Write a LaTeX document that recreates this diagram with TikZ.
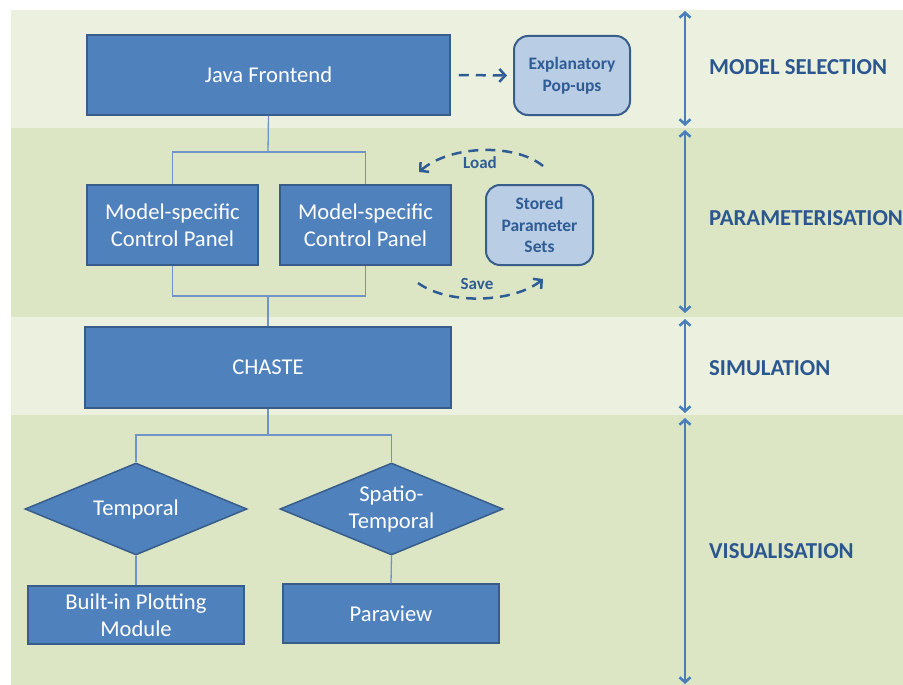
\documentclass[tikz,border=0pt]{standalone}
\usepackage{fontspec}
\setmainfont{Carlito}
\usetikzlibrary{shapes.geometric,arrows.meta}
\definecolor{boxfill}{HTML}{4F81BD}
\definecolor{boxline}{HTML}{385D8A}
\definecolor{lightband}{HTML}{EBF1DE}
\definecolor{darkband}{HTML}{DCE6C4}
\definecolor{conn}{HTML}{7094C8}
\definecolor{arrowblue}{HTML}{4A7EBB}
\definecolor{dashblue}{HTML}{2F5C95}
\definecolor{labelblue}{HTML}{2B5690}
\definecolor{softfill}{HTML}{B9CDE5}
\begin{document}
\begin{tikzpicture}[x=1pt,y=-1pt,
  bluebox/.style={rectangle, draw=boxline, fill=boxfill, line width=1.5pt, text=white,
    font=\fontsize{22.6}{27}\selectfont, align=center, inner sep=0pt},
  bluediamond/.style={diamond, draw=boxline, fill=boxfill, line width=1.5pt, text=white,
    font=\fontsize{22.6}{27}\selectfont, align=center, inner sep=0pt, shape aspect=2.4},
  softbox/.style={rectangle, rounded corners=14pt, draw=boxline, fill=softfill, line width=2pt,
    text=dashblue, font=\bfseries\fontsize{17.5}{21.5}\selectfont, align=center, inner sep=0pt},
  conn/.style={draw=conn, line width=1.3pt},
  dasharrow/.style={draw=dashblue, line width=2.5pt, dash pattern=on 10pt off 7pt,
    -{Straight Barb[length=6pt,width=13pt,line width=2.5pt]}},
  sidearrow/.style={draw=arrowblue, line width=2.6pt,
    {Straight Barb[length=5pt,width=11pt,line width=2.6pt]}-{Straight Barb[length=5pt,width=11pt,line width=2.6pt]}},
  phaselabel/.style={anchor=west, text=labelblue, font=\bfseries\fontsize{22.8}{26}\selectfont, inner sep=0pt},
  curvelabel/.style={text=dashblue, font=\bfseries\fontsize{17}{19}\selectfont, inner sep=0pt}]
\useasboundingbox (0,0) rectangle (903,685);
% bands
\fill[lightband] (11,10) rectangle (903,128);
\fill[darkband] (11,128) rectangle (903,317);
\fill[lightband] (11,317) rectangle (903,415);
\fill[darkband] (11,415) rectangle (903,685);

% nodes
\node[bluebox, minimum width=363pt, minimum height=80pt] (java) at (268.5,75) {Java Frontend};
\node[softbox, minimum width=116pt, minimum height=79pt] (pop) at (572,75.5) {Explanatory\\Pop-ups};
\node[bluebox, minimum width=171pt, minimum height=80pt] (p1) at (172.5,225) {Model-specific\\Control Panel};
\node[bluebox, minimum width=171pt, minimum height=80pt] (p2) at (365.5,225) {Model-specific\\Control Panel};
\node[softbox, minimum width=107pt, minimum height=80pt] (stored) at (539.5,225) {Stored\\Parameter\\Sets};
\node[bluebox, minimum width=366pt, minimum height=81pt] (chaste) at (268,367.5) {CHASTE};
\node[bluediamond, minimum width=222pt, minimum height=92pt] (temp) at (136,509) {Temporal};
\node[bluediamond, minimum width=223pt, minimum height=92pt] (spat) at (391.5,509) {Spatio-\\Temporal};
\node[bluebox, minimum width=216pt, minimum height=58pt] (built) at (136,615) {Built-in Plotting\\Module};
\node[bluebox, minimum width=216pt, minimum height=59pt] (para) at (391,613.5) {Paraview};

% tree connectors
\coordinate (j1) at (268,152);
\coordinate (j2) at (268,296);
\coordinate (j3) at (268,435);
\draw[conn] (java.south) -- (j1);
\draw[conn] (p1.north) |- (j1) -| (p2.north);
\draw[conn] (p1.south) |- (j2) -| (p2.south);
\draw[conn] (j2) -- (chaste.north);
\draw[conn] (chaste.south) -- (j3);
\draw[conn] (temp.north) |- (j3) -| (spat.north);
\draw[conn] (temp.south) -- (built.north);
\draw[conn] (spat.south) -- (para.north);

% dashed arrows
\draw[dasharrow] ([xshift=8pt]java.east) -- ([xshift=-6pt]pop.west);
\coordinate (ls) at (543,166);
\coordinate (le) at (419,172);
\coordinate (ss) at (418,283);
\coordinate (se) at (543,279);
\draw[dasharrow] (ls) .. controls (515,143) and (450,145) .. (le);
\draw[dasharrow] (ss) .. controls (450,306) and (515,302) .. (se);
\node[curvelabel] (load) at (480,163) {Load};
\node[curvelabel] (save) at (477,284) {Save};

% side arrows
\coordinate (a1t) at (685,11);
\coordinate (a1b) at (685,126);
\coordinate (a2t) at (685,130);
\coordinate (a2b) at (685,313);
\coordinate (a3t) at (685,319);
\coordinate (a3b) at (685,413);
\coordinate (a4t) at (685,418);
\coordinate (a4b) at (685,684);
\draw[sidearrow] (a1t) -- (a1b);
\draw[sidearrow] (a2t) -- (a2b);
\draw[sidearrow] (a3t) -- (a3b);
\draw[sidearrow] (a4t) -- (a4b);

% labels
\node[phaselabel] (l1) at (709,67) {MODEL SELECTION};
\node[phaselabel] (l2) at (709,218) {PARAMETERISATION};
\node[phaselabel] (l3) at (709,368) {SIMULATION};
\node[phaselabel] (l4) at (709,551) {VISUALISATION};
\end{tikzpicture}
\end{document}
